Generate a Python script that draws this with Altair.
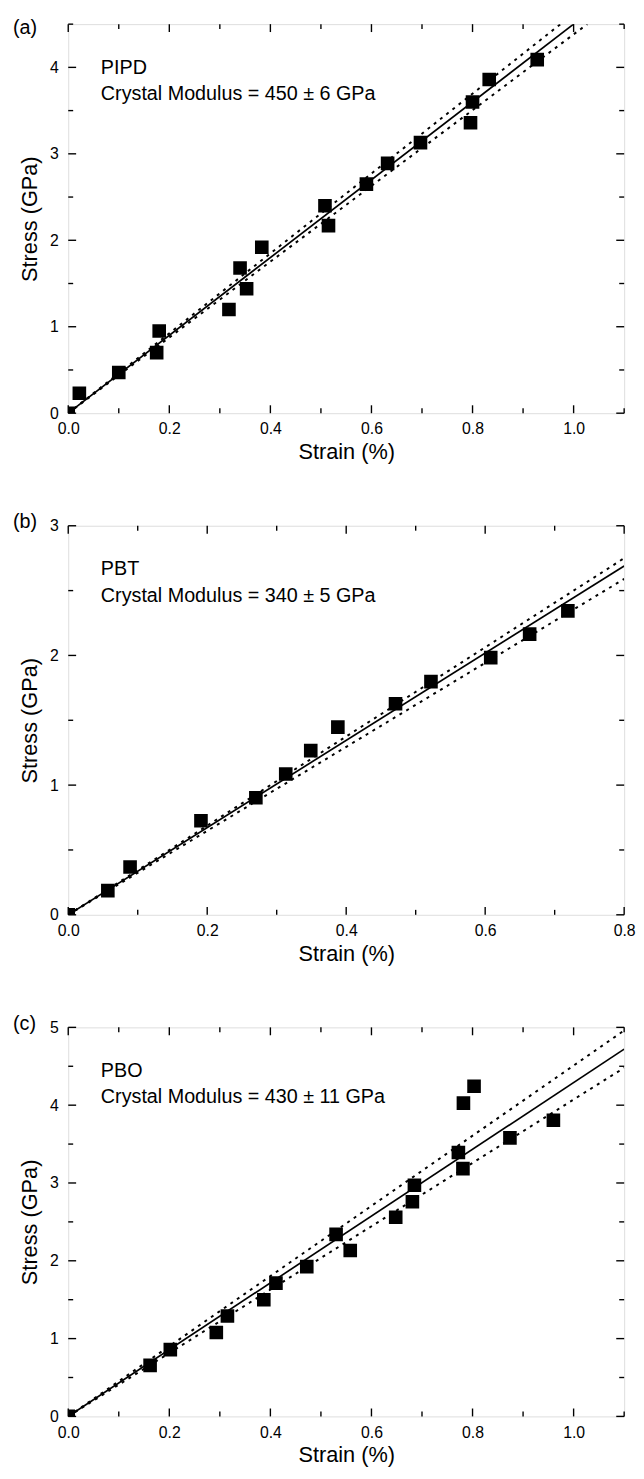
import altair as alt
import pandas as pd

FONT = "Liberation Sans"

# ---------------- data ----------------
letters = ["(a)", "(b)", "(c)"]
materials = ["PIPD", "PBT", "PBO"]
modulus_text = [
    "Crystal Modulus = 450 \u00b1 6 GPa",
    "Crystal Modulus = 340 \u00b1 5 GPa",
    "Crystal Modulus = 430 \u00b1 11 GPa",
]

# (a) PIPD
a_strain = [0.0, 0.022, 0.100, 0.175, 0.180, 0.318, 0.340, 0.353, 0.383,
            0.508, 0.515, 0.590, 0.632, 0.697, 0.796, 0.800, 0.833, 0.928]
a_stress = [0.0, 0.23, 0.47, 0.70, 0.95, 1.20, 1.68, 1.44, 1.92,
            2.40, 2.17, 2.65, 2.89, 3.13, 3.36, 3.60, 3.86, 4.09]
a_fit_x, a_fit_y = [0.0, 1.0], [0.0, 4.5]
a_up_x, a_up_y = [0.0, 0.974], [0.0, 4.5]
a_lo_x, a_lo_y = [0.0, 1.027], [0.0, 4.5]

# (b) PBT
b_strain = [0.0, 0.057, 0.089, 0.191, 0.270, 0.313, 0.349, 0.388,
            0.471, 0.522, 0.608, 0.664, 0.719]
b_stress = [0.0, 0.186, 0.369, 0.725, 0.903, 1.086, 1.266, 1.447,
            1.627, 1.798, 1.983, 2.164, 2.344]
b_fit_x, b_fit_y = [0.0, 0.8], [0.0, 2.69]
b_up_x, b_up_y = [0.0, 0.8], [0.0, 2.75]
b_lo_x, b_lo_y = [0.0, 0.8], [0.0, 2.59]

# (c) PBO
c_strain = [0.0, 0.162, 0.202, 0.293, 0.315, 0.387, 0.411, 0.472, 0.530,
            0.558, 0.648, 0.681, 0.685, 0.772, 0.781, 0.782, 0.803, 0.874, 0.960]
c_stress = [0.0, 0.656, 0.859, 1.079, 1.290, 1.500, 1.713, 1.925, 2.339,
            2.132, 2.559, 2.758, 2.970, 3.392, 3.185, 4.027, 4.243, 3.580, 3.807]
c_fit_x, c_fit_y = [0.0, 1.1], [0.0, 4.72]
c_up_x, c_up_y = [0.0, 1.1], [0.0, 4.96]
c_lo_x, c_lo_y = [0.0, 1.1], [0.0, 4.48]

# axis ticks / labels
a_x_labels = [0.0, 0.2, 0.4, 0.6, 0.8, 1.0]
a_x_minor = [0.1, 0.3, 0.5, 0.7, 0.9, 1.1]
a_y_labels = [0, 1, 2, 3, 4]
a_y_minor = [0.5, 1.5, 2.5, 3.5, 4.5]

b_x_labels = [0.0, 0.2, 0.4, 0.6, 0.8]
b_x_minor = [0.1, 0.3, 0.5, 0.7]
b_y_labels = [0, 1, 2, 3]
b_y_minor = [0.5, 1.5, 2.5]

c_x_labels = [0.0, 0.2, 0.4, 0.6, 0.8, 1.0]
c_x_minor = [0.1, 0.3, 0.5, 0.7, 0.9, 1.1]
c_y_labels = [0, 1, 2, 3, 4, 5]
c_y_minor = [0.5, 1.5, 2.5, 3.5, 4.5]

x_domains = [1.1, 0.8, 1.1]
y_domains = [4.5, 3.0, 5.0]

W, H = 563, 394
MAJ, MIN = 8, 5


def panel(i, sx, sy, fit, up, lo, x_lab, x_min, y_lab, y_min, letter_y):
    xs = alt.Scale(domain=[0, x_domains[i]], nice=False, zero=False)
    ys = alt.Scale(domain=[0, y_domains[i]], nice=False, zero=False)
    xaxis = alt.Axis(values=x_lab, format=".1f", ticks=False, domain=False, grid=False,
                     labelFontSize=16, labelPadding=8, labelFlush=False, labelOverlap=False,
                     titleFontSize=22, titlePadding=5, titleFontWeight="normal")
    yaxis = alt.Axis(values=y_lab, format="d", ticks=False, domain=False, grid=False,
                     labelFontSize=16, labelPadding=10, labelFlush=False, labelOverlap=False,
                     titleFontSize=22, titlePadding=8, titleFontWeight="normal")

    def X(field="strain"):
        return alt.X(f"{field}:Q", scale=xs, axis=xaxis, title="Strain (%)")

    def Y(field="stress"):
        return alt.Y(f"{field}:Q", scale=ys, axis=yaxis, title="Stress (GPa)")

    pts = pd.DataFrame({"strain": sx, "stress": sy})
    fit_df = pd.DataFrame({"strain": fit[0], "stress": fit[1]})
    band_df = pd.concat([
        pd.DataFrame({"strain": up[0], "stress": up[1], "band": "upper"}),
        pd.DataFrame({"strain": lo[0], "stress": lo[1], "band": "lower"}),
    ])

    layers = []
    layers.append(alt.Chart(band_df).mark_line(color="black", strokeWidth=2,
                                               strokeDash=[3, 5], clip=True)
                  .encode(x=X(), y=Y(), detail="band:N"))
    layers.append(alt.Chart(fit_df).mark_line(color="black", strokeWidth=1.7, clip=True)
                  .encode(x=X(), y=Y()))
    layers.append(alt.Chart(pts).mark_square(size=190, color="black", opacity=1,
                                             clip=True)
                  .encode(x=X(), y=Y()))

    # inward ticks on all four sides
    for vals, ln in ((x_lab, MAJ), (x_min, MIN)):
        d = pd.DataFrame({"strain": vals})
        layers.append(alt.Chart(d).mark_rule(color="black", strokeWidth=1.4)
                      .encode(x=X(), y=alt.value(H), y2=alt.value(H - ln)))
        layers.append(alt.Chart(d).mark_rule(color="black", strokeWidth=1.4)
                      .encode(x=X(), y=alt.value(0), y2=alt.value(ln)))
    for vals, ln in ((y_lab, MAJ), (y_min, MIN)):
        d = pd.DataFrame({"stress": vals})
        layers.append(alt.Chart(d).mark_rule(color="black", strokeWidth=1.4)
                      .encode(y=Y(), x=alt.value(0), x2=alt.value(ln)))
        layers.append(alt.Chart(d).mark_rule(color="black", strokeWidth=1.4)
                      .encode(y=Y(), x=alt.value(W), x2=alt.value(W - ln)))

    txt = pd.DataFrame({"name": [materials[i]], "mod": [modulus_text[i]],
                        "letter": [letters[i]]})
    layers.append(alt.Chart(txt).mark_text(align="left", baseline="middle", fontSize=20,
                                           font=FONT, color="black")
                  .encode(x=alt.value(33), y=alt.value(44), text="name:N"))
    layers.append(alt.Chart(txt).mark_text(align="left", baseline="middle", fontSize=20,
                                           font=FONT, color="black")
                  .encode(x=alt.value(33), y=alt.value(71), text="mod:N"))
    layers.append(alt.Chart(txt).mark_text(align="left", baseline="middle", fontSize=20,
                                           font=FONT, color="black")
                  .encode(x=alt.value(-56), y=alt.value(letter_y), text="letter:N"))

    return alt.layer(*layers).properties(width=W, height=H)


pa = panel(0, a_strain, a_stress, (a_fit_x, a_fit_y), (a_up_x, a_up_y), (a_lo_x, a_lo_y),
           a_x_labels, a_x_minor, a_y_labels, a_y_minor, 4)
pb = panel(1, b_strain, b_stress, (b_fit_x, b_fit_y), (b_up_x, b_up_y), (b_lo_x, b_lo_y),
           b_x_labels, b_x_minor, b_y_labels, b_y_minor, -4)
pc = panel(2, c_strain, c_stress, (c_fit_x, c_fit_y), (c_up_x, c_up_y), (c_lo_x, c_lo_y),
           c_x_labels, c_x_minor, c_y_labels, c_y_minor, -3)

chart = (
    alt.vconcat(pa, pb, pc, spacing=114, bounds="flush")
    .properties(padding={"left": 4, "top": 0, "right": 0, "bottom": 0})
    .configure_view(stroke="black", strokeWidth=1.6)
    .configure_axis(labelFont=FONT, titleFont=FONT, labelColor="black",
                    titleColor="black")
    .configure(background="white")
)

chart.save("out.html", embed_options={"renderer": "svg", "actions": False})
